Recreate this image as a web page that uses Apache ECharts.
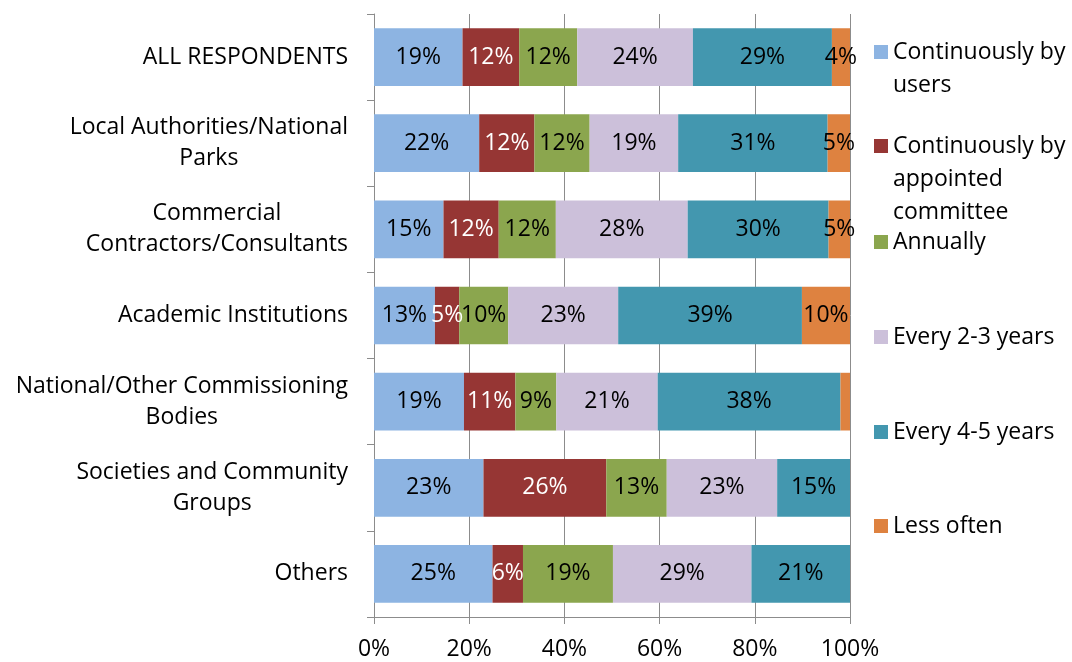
<!DOCTYPE html>
<html>
<head>
<meta charset="utf-8">
<script src="https://cdn.jsdelivr.net/npm/echarts@6/dist/echarts.min.js"></script>
<style>
  html, body { margin: 0; padding: 0; background: #ffffff; }
  #chart { width: 1072px; height: 662px; }
</style>
</head>
<body>
<div id="chart"></div>
<script>
// Respondent groups, top to bottom
const categories = [
  'ALL RESPONDENTS',
  'Local Authorities/National\nParks',
  'Commercial\nContractors/Consultants',
  'Academic Institutions',
  'National/Other Commissioning\nBodies',
  'Societies and Community\nGroups',
  'Others'
];

// Review frequency answers (share of respondents, %)
const seriesNames = [
  'Continuously by users',
  'Continuously by appointed committee',
  'Annually',
  'Every 2-3 years',
  'Every 4-5 years',
  'Less often'
];
const legendText = [
  'Continuously by\nusers',
  'Continuously by\nappointed\ncommittee',
  'Annually',
  'Every 2-3 years',
  'Every 4-5 years',
  'Less often'
];

const byUsers     = [18.6, 22.1, 14.6, 12.8, 18.9, 23.0, 24.9];
const byCommittee = [11.9, 11.6, 11.6,  5.1, 10.8, 25.8,  6.4];
const annually    = [12.2, 11.6, 12.0, 10.3,  8.6, 12.7, 18.9];
const every2to3   = [24.3, 18.6, 27.7, 23.1, 21.3, 23.2, 29.1];
const every4to5   = [29.2, 31.4, 29.6, 38.6, 38.4, 15.3, 20.7];
const lessOften   = [ 3.8,  4.7,  4.5, 10.1,  2.0,  0.0,  0.0];

const xTicks = [0, 20, 40, 60, 80, 100];

const seriesData = [byUsers, byCommittee, annually, every2to3, every4to5, lessOften];
const colors = ['#8DB4E2', '#963634', '#8BA64E', '#CCC0DA', '#4397AF', '#DE8240'];
const labelColors = ['#000', '#fff', '#000', '#000', '#000', '#000'];
const minLabelled = 3;

const FONT = '"Open Sans", Lato, sans-serif';
const FS = 23;

const chart = echarts.init(document.getElementById('chart'));

const series = seriesData.map((data, i) => ({
  name: seriesNames[i],
  type: 'bar',
  stack: 'total',
  data: data,
  barCategoryGap: '33%',
  itemStyle: { color: colors[i] },
  label: {
    show: true,
    position: 'inside',
    color: labelColors[i],
    fontFamily: FONT,
    fontSize: FS,
    formatter: p => (p.value >= minLabelled ? Math.round(p.value) + '%' : '')
  },
  emphasis: { disabled: true }
}));

// One legend block per answer; leading blank lines keep the marker on the first text line
const LH = 33;
const legendCentres = [52, 146, 242, 337, 432, 526];
const legends = seriesNames.map((name, i) => {
  const n = legendText[i].split('\n').length;
  const text = '\n'.repeat(n - 1) + legendText[i];
  const h = (2 * n - 1) * LH;
  return {
    data: [name],
    left: 874,
    top: legendCentres[i] - h / 2,
    orient: 'vertical',
    padding: 0,
    icon: 'rect',
    itemWidth: 14,
    itemHeight: 14,
    selectedMode: false,
    formatter: () => text,
    textStyle: {
      fontFamily: FONT,
      fontSize: FS,
      color: '#000',
      lineHeight: LH
    }
  };
});

chart.setOption({
  animation: false,
  backgroundColor: '#ffffff',
  color: colors,
  legend: legends,
  grid: {
    left: 374,
    right: 222,
    top: 14,
    bottom: 45,
    containLabel: false,
    outerBoundsMode: 'none'
  },
  xAxis: {
    type: 'value',
    min: xTicks[0],
    max: xTicks[xTicks.length - 1],
    interval: 20,
    axisLine: { show: true, lineStyle: { color: '#8c8c8c', width: 1 } },
    axisTick: { show: true, length: 7, lineStyle: { color: '#8c8c8c' } },
    splitLine: { show: true, lineStyle: { color: '#8c8c8c', width: 1 } },
    axisLabel: {
      fontFamily: FONT,
      fontSize: FS,
      color: '#000',
      margin: 21,
      formatter: v => v + '%'
    }
  },
  yAxis: {
    type: 'category',
    inverse: true,
    data: categories,
    axisLine: { show: true, lineStyle: { color: '#8c8c8c', width: 1 } },
    axisTick: { show: true, length: 7, lineStyle: { color: '#8c8c8c' } },
    splitLine: { show: false },
    axisLabel: {
      align: 'right',
      margin: 26,
      formatter: v => v.split('\n').map(s => '{c|' + s + '}').join('\n'),
      rich: {
        c: {
          align: 'center',
          fontFamily: FONT,
          fontSize: FS,
          color: '#000',
          lineHeight: 31
        }
      }
    }
  },
  series: series
});
</script>
</body>
</html>
